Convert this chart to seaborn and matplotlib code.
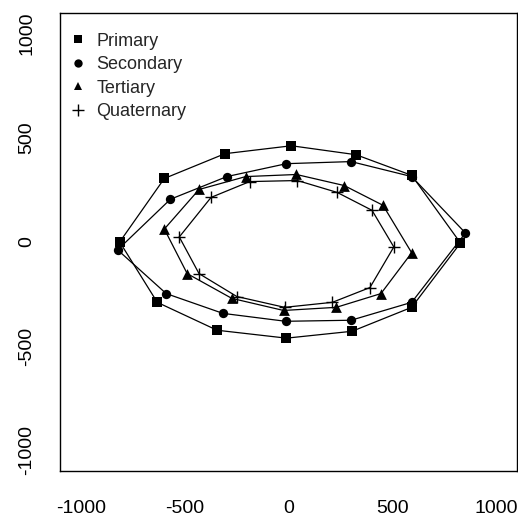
import numpy as np
import pandas as pd
import matplotlib
matplotlib.use("Agg")
import matplotlib.pyplot as plt
import seaborn as sns
from matplotlib.lines import Line2D

# ring coordinates (12 points each, closed later)
primary_x = [-813, -598, -306, 14, 325, 593, 828, 593, 306, -10, -344, -632]
primary_y = [0, 305, 424, 462, 419, 320, -5, -314, -429, -462, -424, -290]

secondary_x = [-823, -569, -297, -10, 301, 593, 852, 593, 301, -14, -316, -589]
secondary_y = [-38, 205, 314, 376, 386, 314, 43, -290, -376, -381, -343, -248]

tertiary_x = [-598, -431, -206, 38, 268, 455, 593, 445, 230, -24, -273, -488]
tertiary_y = [62, 252, 314, 324, 271, 176, -52, -248, -314, -329, -271, -152]

quaternary_x = [-526, -373, -187, 43, 234, 402, 507, 392, 211, -19, -249, -431]
quaternary_y = [24, 214, 290, 295, 238, 152, -24, -219, -290, -314, -262, -152]

labels = ["Primary", "Secondary", "Tertiary", "Quaternary"]
markers = ["s", "o", "^", "+"]
sizes = [45, 45, 60, 65]

sns.set_style("white")
plt.rcParams['font.family'] = ['Liberation Sans', 'DejaVu Sans']
plt.rcParams['axes.unicode_minus'] = False

fig = plt.figure(figsize=(5.18, 5.17), dpi=100)
ax = fig.add_axes([0.116, 0.089, 0.882, 0.886])

series = [(primary_x, primary_y), (secondary_x, secondary_y),
          (tertiary_x, tertiary_y), (quaternary_x, quaternary_y)]

for (xs, ys), m, sz in zip(series, markers, sizes):
    ring = pd.DataFrame({"x": xs + xs[:1], "y": ys + ys[:1]})
    sns.lineplot(data=ring, x="x", y="y", sort=False, color="black",
                 linewidth=0.9, ax=ax, estimator=None)
    pts = pd.DataFrame({"x": xs, "y": ys})
    if m == "+":
        sns.scatterplot(data=pts, x="x", y="y", marker="+", color="black",
                        s=sz, linewidth=1.0, ax=ax, zorder=3)
    else:
        sns.scatterplot(data=pts, x="x", y="y", marker=m, color="black",
                        s=sz, linewidth=0, ax=ax, zorder=3)

ax.set_xlim(-1100, 1100)
ax.set_ylim(-1100, 1100)
ax.set_xticks([-1000, -500, 0, 500, 1000])
ax.set_yticks([-1000, -500, 0, 500, 1000])
ax.set_xlabel("")
ax.set_ylabel("")
for lab in ax.get_yticklabels():
    lab.set_rotation(90)
    lab.set_va("center")
ax.tick_params(axis="both", direction="out", length=8.6, width=1, color="black",
               labelsize=14, labelcolor="black")
ax.tick_params(axis="x", pad=12)
ax.tick_params(axis="y", pad=9.4)
for s in ax.spines.values():
    s.set_visible(True)
    s.set_color("black")
    s.set_linewidth(1.0)

handles = []
for lab, m in zip(labels, markers):
    if m == "+":
        handles.append(Line2D([], [], linestyle="none", marker="+", color="black",
                              markersize=8, markeredgewidth=1.0, label=lab))
    else:
        handles.append(Line2D([], [], linestyle="none", marker=m, color="black",
                              markersize=6, markeredgewidth=0, label=lab))
ax.legend(handles=handles, loc="upper left", bbox_to_anchor=(0.004, 0.973),
          frameon=False, fontsize=13, handlelength=1.0, handletextpad=0.5,
          labelspacing=0.36, borderaxespad=0)

fig.savefig("out.png", dpi=100)
